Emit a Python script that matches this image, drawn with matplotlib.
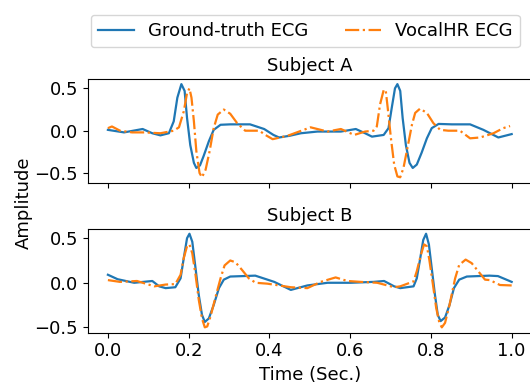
import matplotlib
matplotlib.use("Agg")
from matplotlib import pyplot as plt

# Subject A
tA_gt = [0.0, 0.04, 0.086, 0.11, 0.13, 0.151, 0.163, 0.172, 0.182, 0.19, 0.196, 0.204, 0.213, 0.219,
         0.228, 0.237, 0.25, 0.262, 0.279, 0.303, 0.352, 0.387, 0.41, 0.424, 0.45, 0.478, 0.519, 0.577,
         0.614, 0.637, 0.654, 0.683, 0.695, 0.703, 0.711, 0.717, 0.724, 0.73, 0.738, 0.747, 0.755,
         0.765, 0.777, 0.79, 0.802, 0.819, 0.852, 0.897, 0.93, 0.967, 1.0]
aA_gt = [0.01, -0.02, 0.02, -0.03, -0.055, -0.03, 0.11, 0.39, 0.55, 0.47, 0.15, -0.17, -0.38, -0.44,
         -0.41, -0.3, -0.125, 0.01, 0.07, 0.075, 0.075, 0.02, -0.05, -0.08, -0.06, -0.03, -0.01, -0.01,
         0.02, -0.03, -0.07, -0.05, 0.03, 0.27, 0.5, 0.55, 0.47, 0.15, -0.17, -0.38, -0.44,
         -0.4, -0.26, -0.09, 0.03, 0.08, 0.075, 0.075, 0.01, -0.08, -0.04]

tA_vh = [0.0, 0.01, 0.03, 0.06, 0.09, 0.13, 0.163, 0.176, 0.188, 0.196, 0.202, 0.207, 0.213, 0.219,
         0.227, 0.233, 0.242, 0.252, 0.262, 0.272, 0.287, 0.303, 0.32, 0.34, 0.375, 0.39, 0.408,
         0.445, 0.502, 0.544, 0.577, 0.61, 0.637, 0.658, 0.666, 0.674, 0.683, 0.688, 0.693, 0.701,
         0.709, 0.717, 0.724, 0.732, 0.742, 0.753, 0.761, 0.773, 0.79, 0.806, 0.823, 0.843, 0.872,
         0.897, 0.922, 0.955, 0.979, 0.996]
aA_vh = [0.03, 0.05, 0.0, -0.02, -0.02, -0.03, 0.0, 0.04, 0.23, 0.445, 0.5, 0.39, 0.11, -0.24,
         -0.5, -0.55, -0.46, -0.24, 0.03, 0.19, 0.25, 0.2, 0.09, 0.0, 0.0, -0.05, -0.1,
         -0.06, 0.04, -0.01, 0.02, -0.05, -0.01, 0.0, 0.05, 0.31, 0.48, 0.48, 0.27, -0.09,
         -0.4, -0.54, -0.55, -0.44, -0.2, 0.07, 0.21, 0.26, 0.21, 0.09, 0.01, 0.0, 0.0,
         -0.09, -0.08, -0.03, 0.03, 0.055]

# Subject B
tB_gt = [0.0, 0.024, 0.065, 0.11, 0.127, 0.143, 0.167, 0.18, 0.188, 0.196, 0.202, 0.209, 0.217, 0.225,
         0.233, 0.24, 0.25, 0.262, 0.275, 0.287, 0.303, 0.365, 0.412, 0.453, 0.494, 0.544, 0.601,
         0.658, 0.684, 0.709, 0.724, 0.757, 0.765, 0.773, 0.781, 0.788, 0.795, 0.802, 0.81, 0.817,
         0.824, 0.835, 0.846, 0.857, 0.87, 0.889, 0.945, 0.966, 1.0]
aB_gt = [0.09, 0.04, 0.0, 0.02, -0.04, -0.06, -0.05, 0.05, 0.28, 0.5, 0.55, 0.46, 0.165, -0.135,
         -0.36, -0.44, -0.4, -0.25, -0.06, 0.035, 0.07, 0.08, 0.01, -0.08, -0.03, 0.0, 0.0,
         0.01, 0.02, -0.04, -0.06, -0.04, 0.05, 0.26, 0.48, 0.55, 0.43, 0.165, -0.135, -0.36,
         -0.43, -0.39, -0.25, -0.06, 0.035, 0.07, 0.08, 0.075, 0.01]

tB_vh = [0.0, 0.03, 0.072, 0.115, 0.143, 0.167, 0.18, 0.188, 0.196, 0.202, 0.209, 0.217, 0.225,
         0.233, 0.24, 0.246, 0.254, 0.266, 0.279, 0.289, 0.303, 0.316, 0.332, 0.349, 0.366, 0.395,
         0.453, 0.494, 0.527, 0.564, 0.593, 0.626, 0.667, 0.709, 0.724, 0.757, 0.765, 0.775, 0.783,
         0.79, 0.796, 0.805, 0.813, 0.821, 0.827, 0.835, 0.846, 0.86, 0.87, 0.886, 0.901, 0.917,
         0.934, 0.946, 0.971, 1.0]
aB_vh = [0.03, 0.01, 0.02, -0.04, -0.02, -0.015, 0.09, 0.28, 0.41, 0.43, 0.33, 0.09, -0.19,
         -0.4, -0.5, -0.49, -0.38, -0.17, 0.05, 0.195, 0.25, 0.23, 0.145, 0.05, 0.0, -0.01,
         -0.05, -0.06, 0.01, 0.06, 0.02, 0.01, 0.0, -0.05, -0.04, 0.015, 0.13, 0.31, 0.43,
         0.41, 0.26, -0.02, -0.28, -0.45, -0.5, -0.45, -0.25, 0.05, 0.2, 0.26, 0.22, 0.13,
         0.035, 0.03, -0.025, -0.03]

plt.rcParams['font.size'] = 13

fig = plt.figure(figsize=(5.3, 3.84), dpi=100)
ax1 = fig.add_axes([0.1655, 0.5242, 0.838, 0.2693])
ax2 = fig.add_axes([0.1655, 0.1336, 0.838, 0.2693], sharex=ax1)

lw = 1.6
ax1.plot(tA_gt, aA_gt, color='tab:blue', lw=lw, label='Ground-truth ECG')
ax1.plot(tA_vh, aA_vh, color='tab:orange', lw=lw, linestyle='-.', label='VocalHR ECG')
ax1.set_title('Subject A', fontsize=13)
ax1.tick_params(labelbottom=False)

ax2.plot(tB_gt, aB_gt, color='tab:blue', lw=lw)
ax2.plot(tB_vh, aB_vh, color='tab:orange', lw=lw, linestyle='-.')
ax2.set_title('Subject B', fontsize=13)
ax2.set_xlabel('Time (Sec.)')

for ax in (ax1, ax2):
    ax.set_xlim(-0.05, 1.05)
    ax.set_yticks([-0.5, 0.0, 0.5])
ax1.set_ylim(-0.614, 0.607)
ax2.set_ylim(-0.56, 0.6)

fig.text(0.045, 0.471, 'Amplitude', rotation=90, ha='center', va='center', fontsize=13)
fig.legend(loc='upper center', bbox_to_anchor=(0.576, 0.985), ncol=2, fontsize=13)

fig.savefig('out.png', dpi=100)
